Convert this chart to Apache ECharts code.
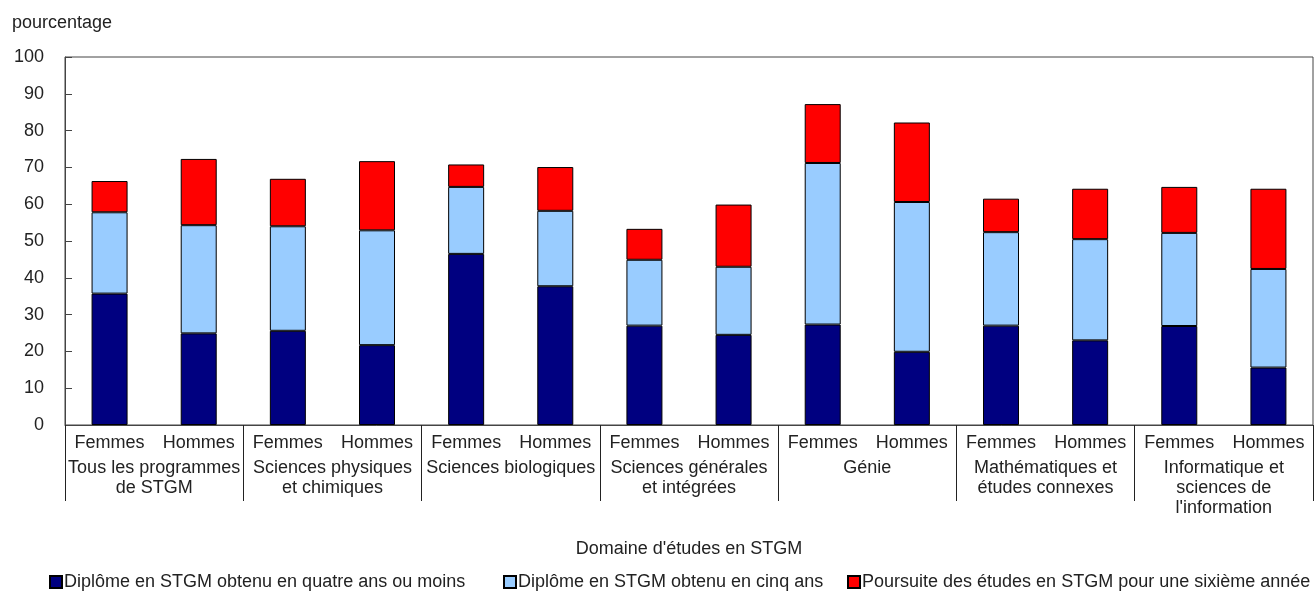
<!DOCTYPE html>
<html>
<head>
<meta charset="utf-8">
<script src="https://cdn.jsdelivr.net/npm/echarts@6/dist/echarts.min.js"></script>
<style>
html,body{margin:0;padding:0;background:#fff;}
#chart{width:1314px;height:599px;}
</style>
</head>
<body>
<div id="chart"></div>
<script>
const FONT = "'Liberation Sans', Arial, sans-serif";

const sexes = ['Femmes','Hommes','Femmes','Hommes','Femmes','Hommes','Femmes','Hommes','Femmes','Hommes','Femmes','Hommes','Femmes','Hommes'];
const fields = [
  'Tous les programmes\nde STGM',
  'Sciences physiques\net chimiques',
  'Sciences biologiques',
  'Sciences générales\net intégrées',
  'Génie',
  'Mathématiques et\nétudes connexes',
  'Informatique et\nsciences de\nl\'information'
];
const seriesNames = [
  'Diplôme en STGM obtenu en quatre ans ou moins',
  'Diplôme en STGM obtenu en cinq ans',
  'Poursuite des études en STGM pour une sixième année'
];
const fourYears = [35.7, 24.9, 25.6, 21.7, 46.5, 37.7, 27.0, 24.5, 27.3, 19.9, 27.0, 23.0, 26.9, 15.6];
const fiveYears = [22.1, 29.4, 28.4, 31.2, 18.2, 20.5, 17.9, 18.5, 43.9, 40.7, 25.4, 27.5, 25.3, 26.8];
const sixthYear = [8.5, 18.0, 12.9, 18.8, 6.1, 11.9, 8.4, 16.9, 16.0, 21.6, 9.1, 13.7, 12.5, 21.8];
const yTicks = [0, 10, 20, 30, 40, 50, 60, 70, 80, 90, 100];

const colors = ['#000080', '#99CCFF', '#FF0000'];
const values = [fourYears, fiveYears, sixthYear];

const chart = echarts.init(document.getElementById('chart'), null, {renderer: 'canvas'});
const textColor = '#222';
const FS = 18;
const legendBase = {
  top: 568, itemWidth: 12, itemHeight: 12, itemGap: 10, icon: 'rect',
  textStyle: {fontFamily: FONT, fontSize: FS, color: textColor, padding: [0,0,0,-3]},
  selectedMode: false
};
chart.setOption({
  animation: false,
  textStyle: {fontFamily: FONT},
  title: {
    text: 'pourcentage', left: 7, top: 9,
    textStyle: {fontFamily: FONT, fontSize: FS, fontWeight: 'normal', color: textColor}
  },
  legend: [
    Object.assign({}, legendBase, {left: 44, data: [seriesNames[0]]}),
    Object.assign({}, legendBase, {left: 498, data: [seriesNames[1]]}),
    Object.assign({}, legendBase, {left: 842, data: [seriesNames[2]]})
  ],
  grid: {
    left: 65, right: 1, top: 57, bottom: 174,
    show: true, borderColor: '#444', borderWidth: 1, backgroundColor: 'transparent'
  },
  xAxis: [
    {
      type: 'category', data: sexes, position: 'bottom', offset: 0,
      axisLine: {show: true, lineStyle: {color: '#444', width: 1}},
      axisTick: {show: false},
      axisLabel: {interval: 0, margin: 8, fontFamily: FONT, fontSize: FS, color: textColor, lineHeight: 20}
    },
    {
      type: 'category', data: fields, position: 'bottom', offset: 0,
      axisLine: {show: false},
      axisTick: {show: true, interval: 0, length: 76, lineStyle: {color: '#222', width: 1}},
      axisLabel: {interval: 0, margin: 33, fontFamily: FONT, fontSize: FS, color: textColor, lineHeight: 20},
      name: "Domaine d'études en STGM", nameLocation: 'middle', nameGap: 115,
      nameTextStyle: {fontFamily: FONT, fontSize: FS, color: textColor}
    }
  ],
  yAxis: {
    type: 'value', min: yTicks[0], max: yTicks[yTicks.length - 1], interval: 10,
    axisLine: {show: true, lineStyle: {color: '#444', width: 1}},
    axisTick: {show: true, inside: true, length: 7, lineStyle: {color: '#444'}},
    splitLine: {show: false},
    axisLabel: {margin: 21, fontFamily: FONT, fontSize: FS, color: textColor}
  },
  series: seriesNames.map((name, i) => ({
    name: name, type: 'bar', stack: 'total', xAxisIndex: 0,
    data: values[i], barWidth: 36,
    itemStyle: {color: colors[i], borderColor: '#000', borderWidth: 1}
  }))
});
</script>
</body>
</html>
